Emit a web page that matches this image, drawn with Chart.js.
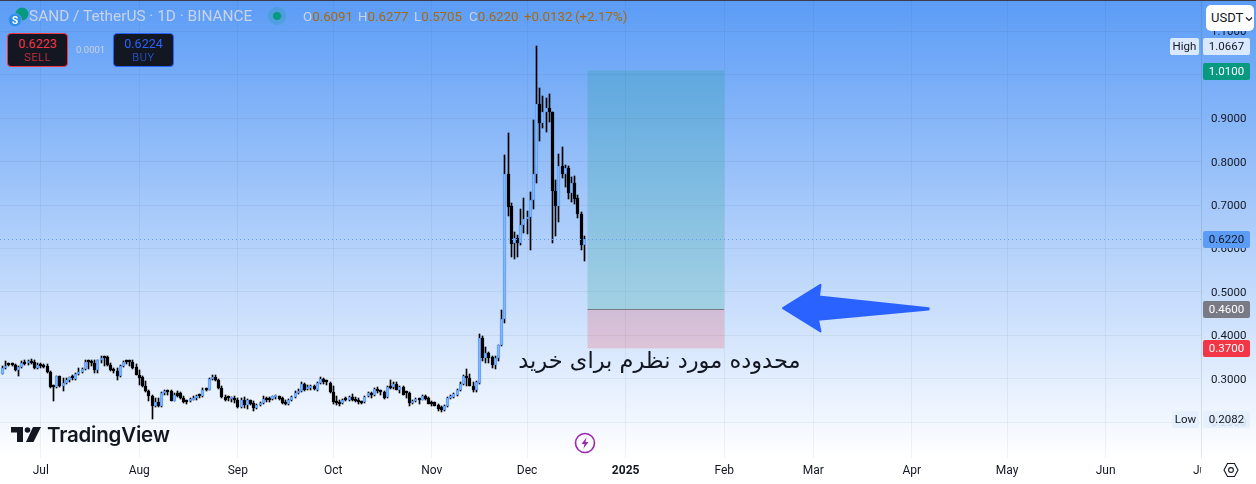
<!DOCTYPE html>
<html>
<head>
<meta charset="utf-8">
<title>SAND / TetherUS</title>
<script src="https://cdn.jsdelivr.net/npm/chart.js@4"></script>
<style>
    html, body { margin: 0; padding: 0; background: #fff; overflow: hidden; }
    #wrap { position: relative; width: 1256px; height: 484px; font-family: Roboto, sans-serif; }
    #wrap span, #wrap div { position: absolute; white-space: nowrap; }
    .head { top: 8px; font-size: 13.3px; line-height: 17px; color: #c9d3e6; }
    .val { color: #a8690f; }
    .pill { top: 33px; width: 59px; height: 32px; background: #131722; border-radius: 4px; text-align: center; border: 1px solid; }
    .pill b { display: block; font-weight: 400; font-size: 12.5px; line-height: 14px; margin-top: 3px; }
    .pill i { display: block; font-style: normal; font-weight: 300; font-size: 11px; line-height: 13px; letter-spacing: 0.6px; }
</style>
</head>
<body>
<div id="wrap">
    <canvas id="chart" width="1256" height="484"></canvas>

    <svg style="position:absolute;left:8px;top:7px" width="22" height="20">
        <circle cx="14" cy="7" r="6.5" fill="#089981"></circle>
        <circle cx="7" cy="13" r="6.5" fill="#2d8fe6" stroke="#5b9cf6"></circle>
        <text x="7" y="16.5" font-size="10" font-weight="700" fill="#fff" text-anchor="middle" font-family="Roboto">S</text>
    </svg>
    <span class="head" style="left:29px;font-size:15.4px;">SAND / TetherUS · 1D · BINANCE</span>
    <svg style="position:absolute;left:268px;top:7px" width="18" height="18">
        <circle cx="9" cy="9" r="9" fill="#089981" opacity="0.2"></circle>
        <circle cx="9" cy="9" r="4" fill="#089981"></circle>
    </svg>
    <span class="head" style="left:303px">O<span class="val" style="position:static">0.6091</span></span>
    <span class="head" style="left:358px">H<span class="val" style="position:static">0.6277</span></span>
    <span class="head" style="left:414px">L<span class="val" style="position:static">0.5705</span></span>
    <span class="head" style="left:469px">C<span class="val" style="position:static">0.6220</span></span>
    <span class="head val" style="left:524px">+0.0132</span>
    <span class="head val" style="left:575px">(+2.17%)</span>

    <div class="pill" style="left:7px;color:#f23645;border-color:#f23645"><b>0.6223</b><i>SELL</i></div>
    <span style="left:76px;top:44px;font-size:9.5px;color:#c9d3e6">0.0001</span>
    <div class="pill" style="left:113px;color:#2962ff;border-color:#2962ff"><b>0.6224</b><i>BUY</i></div>

    <div style="left:1206px;top:5px;width:48px;height:26px;background:#fff;border-radius:5px;font-size:13px;line-height:26px;color:#131722;text-indent:5px">USDT<svg style="position:absolute;left:39px;top:11px" width="8" height="6"><path d="M1 1.5 L4 4.5 L7 1.5" fill="none" stroke="#131722" stroke-width="1.2"></path></svg></div>

    <svg style="position:absolute;left:10px;top:426px" width="34" height="17">
        <path d="M1 1 H13 V16 H7 V6.5 H1 Z" fill="#131722"></path>
        <circle cx="17.5" cy="4" r="2.8" fill="#131722"></circle>
        <path d="M23 1 H31 L23.5 16 H16 Z" fill="#131722"></path>
    </svg>
    <span style="left:47px;top:422px;font-family:Inter,sans-serif;font-weight:600;font-size:20.5px;line-height:26px;color:#131722;letter-spacing:-0.2px">TradingView</span>

    <svg style="position:absolute;left:574px;top:432px" width="22" height="22">
        <circle cx="11" cy="11" r="9.5" fill="none" stroke="#9c27b0" stroke-width="1.6"></circle>
        <path d="M12.5 5.5 L7.5 12 H10.5 L9.5 16.5 L14.5 10 H11.5 Z" fill="#9c27b0"></path>
    </svg>
    <svg style="position:absolute;left:1223px;top:462px" width="16" height="16">
        <path d="M4.5 1.5 H11.5 L15 8 L11.5 14.5 H4.5 L1 8 Z" fill="none" stroke="#131722" stroke-width="1.1"></path>
        <circle cx="8" cy="8" r="2.4" fill="none" stroke="#131722" stroke-width="1.1"></circle>
    </svg>
</div>

<script>
const candleOpen = [
    .3108,.3238,.3322,.3315,.3315,.3192,.3261,.3376,.3361,.3414,
    .3376,.3238,.3322,.3315,.3299,.3146,.2817,.2809,.3054,.2825,
    .2901,.2962,.3031,.2993,.3108,.3154,.3223,.3391,.3376,.3361,
    .3208,.3422,.3499,.3491,.3315,.3208,.3185,.3054,.3284,.3391,
    .3391,.3376,.3261,.3093,.3031,.2825,.2710,.2610,.2365,.2472,
    .2380,.2671,.2733,.2725,.2495,.2671,.2671,.2549,.2472,.2480,
    .2518,.2549,.2610,.2595,.2763,.2748,.2993,.3039,.2962,.2786,
    .2579,.2564,.2534,.2549,.2518,.2342,.2518,.2403,.2503,.2442,
    .2327,.2388,.2442,.2534,.2526,.2534,.2579,.2595,.2564,.2442,
    .2419,.2503,.2579,.2671,.2710,.2886,.2763,.2779,.2840,.2748,
    .2901,.2993,.2932,.2901,.2694,.2495,.2457,.2434,.2541,.2503,
    .2579,.2534,.2518,.2472,.2457,.2595,.2664,.2625,.2771,.2725,
    .2694,.2579,.2809,.2802,.2886,.2748,.2809,.2694,.2671,.2434,
    .2480,.2534,.2518,.2595,.2557,.2442,.2457,.2403,.2342,.2273,
    .2365,.2564,.2572,.2633,.2733,.2878,.3070,.3008,.2840,.2733,
    .2908,.3936,.3483,.3598,.3506,.3322,.3483,.3782,.4380,.7713,
    .6977,.6127,.6242,.6127,.6541,.6679,.6724,.7115,.7713,.9322,
    .8885,.9138,.9230,.9138,.7322,.6977,.7897,.7713,.7851,.7276,
    .7506,.7161,.6793,.6091
];
const candleHigh = [
    .3284,.3414,.3361,.3361,.3345,.3299,.3399,.3422,.3437,.3453,
    .3437,.3361,.3361,.3345,.3345,.3169,.2863,.3070,.3070,.3016,
    .3016,.3039,.3093,.3131,.3246,.3246,.3437,.3437,.3422,.3437,
    .3437,.3514,.3514,.3514,.3361,.3246,.3246,.3322,.3414,.3437,
    .3437,.3422,.3345,.3208,.3054,.2939,.2748,.2633,.2557,.2557,
    .2687,.2733,.2748,.2748,.2671,.2710,.2687,.2595,.2518,.2549,
    .2595,.2633,.2641,.2786,.2779,.3016,.3093,.3093,.2993,.2825,
    .2633,.2610,.2579,.2595,.2549,.2549,.2579,.2534,.2518,.2495,
    .2419,.2465,.2595,.2579,.2579,.2610,.2633,.2610,.2579,.2503,
    .2534,.2610,.2710,.2771,.2917,.2901,.2863,.2863,.2863,.2917,
    .3039,.3016,.2962,.2917,.2825,.2595,.2518,.2541,.2579,.2595,
    .2648,.2579,.2557,.2495,.2602,.2687,.2694,.2786,.2802,.2748,
    .2710,.2825,.2978,.2917,.2917,.2825,.2840,.2710,.2687,.2518,
    .2549,.2557,.2633,.2625,.2579,.2480,.2472,.2426,.2365,.2396,
    .2579,.2633,.2671,.2771,.2917,.3077,.3223,.3108,.2917,.2939,
    .4035,.3989,.3736,.3621,.3529,.3529,.3782,.4587,.8150,.8656,
    .7046,.6380,.6311,.6908,.7161,.6862,.7299,.8954,1.0667,.9690,
    .9506,.9460,.9552,.9138,.7575,.8173,.8334,.7920,.7897,.7644,
    .7667,.7230,.6839,.6277
];
const candleLow = [
    .3108,.3223,.3284,.3284,.3169,.3054,.3246,.3307,.3322,.3345,
    .3223,.3223,.3246,.3246,.3131,.2786,.2480,.2794,.2802,.2710,
    .2878,.2917,.2978,.2962,.3093,.3131,.3208,.3223,.3284,.3131,
    .3131,.3361,.3284,.3284,.3169,.3131,.2978,.3039,.3269,.3345,
    .3299,.3223,.3077,.2848,.2809,.2687,.2480,.2082,.2350,.2342,
    .2342,.2633,.2633,.2480,.2480,.2579,.2534,.2442,.2426,.2465,
    .2503,.2518,.2549,.2579,.2725,.2733,.2978,.2939,.2771,.2557,
    .2480,.2495,.2472,.2442,.2327,.2327,.2327,.2311,.2388,.2265,
    .2311,.2365,.2419,.2457,.2457,.2503,.2534,.2503,.2426,.2388,
    .2388,.2480,.2557,.2656,.2694,.2710,.2733,.2748,.2733,.2725,
    .2886,.2886,.2863,.2671,.2426,.2388,.2365,.2419,.2480,.2488,
    .2488,.2472,.2426,.2426,.2442,.2579,.2564,.2595,.2671,.2633,
    .2541,.2564,.2763,.2763,.2733,.2671,.2618,.2557,.2365,.2419,
    .2457,.2426,.2503,.2503,.2411,.2365,.2365,.2250,.2242,.2258,
    .2350,.2534,.2549,.2595,.2710,.2863,.2825,.2825,.2687,.2687,
    .2885,.3414,.3368,.3368,.3253,.3230,.3414,.3759,.4288,.6747,
    .5805,.5759,.5805,.6081,.6357,.6334,.5966,.6908,.7506,.8472,
    .8770,.8679,.8908,.6127,.6288,.6610,.7621,.7414,.7138,.7069,
    .7023,.6702,.5966,.5705
];
const candleClose = [
    .3246,.3299,.3307,.3307,.3192,.3261,.3361,.3345,.3399,.3361,
    .3238,.3315,.3284,.3269,.3146,.2802,.2802,.3054,.2825,.2901,
    .2978,.3031,.3016,.3116,.3154,.3223,.3391,.3376,.3361,.3208,
    .3422,.3476,.3476,.3315,.3192,.3185,.3054,.3299,.3384,.3376,
    .3376,.3246,.3093,.3016,.2825,.2710,.2595,.2365,.2472,.2365,
    .2671,.2710,.2694,.2495,.2625,.2610,.2557,.2457,.2457,.2534,
    .2549,.2595,.2595,.2748,.2748,.2993,.3039,.2962,.2786,.2579,
    .2503,.2549,.2557,.2518,.2342,.2518,.2403,.2518,.2426,.2327,
    .2388,.2442,.2534,.2518,.2518,.2595,.2610,.2541,.2442,.2419,
    .2518,.2579,.2671,.2725,.2886,.2748,.2786,.2809,.2763,.2901,
    .2993,.2917,.2917,.2694,.2465,.2442,.2426,.2518,.2518,.2579,
    .2518,.2495,.2457,.2449,.2587,.2664,.2633,.2763,.2710,.2687,
    .2557,.2809,.2786,.2886,.2748,.2809,.2633,.2671,.2442,.2495,
    .2518,.2518,.2610,.2534,.2426,.2426,.2380,.2311,.2273,.2365,
    .2557,.2579,.2648,.2748,.2886,.3062,.3008,.2840,.2733,.2917,
    .3943,.3476,.3598,.3483,.3322,.3483,.3782,.4380,.7713,.6954,
    .6104,.6242,.6127,.6541,.6679,.6724,.7115,.7713,.9322,.8885,
    .9138,.9230,.9138,.7322,.6977,.7897,.7713,.7851,.7276,.7506,
    .7138,.6793,.6091,.6220
];

// one slot per day, slot 0 is Jun 19 2024
const monthSlots = [12, 43, 74, 104, 135, 165, 196, 227, 255, 286, 316, 347, 377];
const monthLabels = ["Jul", "Aug", "Sep", "Oct", "Nov", "Dec", "2025", "Feb", "Mar", "Apr", "May", "Jun", "Jul"];
const priceTicks = [1.1, 1.0, 0.9, 0.8, 0.7, 0.6, 0.5, 0.4, 0.3, 0.2];

const tagPrices = [1.0667, 1.01, 0.622, 0.46, 0.37, 0.2082];
const tagFills = ["rgba(255,255,255,0.75)", "#089981", "#5b9cf6", "#787b86", "#f23645", "rgba(227,238,253,0.9)"];
const tagInks = ["#131722", "#ffffff", "#131722", "#ffffff", "#ffffff", "#131722"];

const positionSlots = [184, 227];
const positionPrices = [1.01, 0.46, 0.37];
const noteText = "محدوده مورد نظرم برای خرید";
const noteSlot = 206.6;
const notePrice = 0.3385;
const arrowSlots = [245.5, 257.3, 256.8, 291.3, 291.3, 256.5, 257.3];
const arrowPrices = [0.4626, 0.5161, 0.4892, 0.4625, 0.4595, 0.4357, 0.4088];

const BLUE = "#5b9cf6";
const INK = "#131722";
const AXIS_FONT = "Roboto, sans-serif";

const isUp = candleClose.map((c, i) => c >= candleOpen[i]);
const bodies = candleOpen.map((o, i) => ({ x: i, y: [o, candleClose[i]] }));
const wicks = candleLow.map((l, i) => ({ x: i, y: [l, candleHigh[i]] }));

const pane = {
    id: "pane",
    beforeDraw(chart) {
        const { ctx, width, height, scales: { y } } = chart;
        const g = ctx.createLinearGradient(0, 0, 0, y.bottom);
        g.addColorStop(0, BLUE);
        g.addColorStop(1, "#ffffff");
        ctx.save();
        ctx.fillStyle = g;
        ctx.fillRect(0, 0, width, y.bottom);
        ctx.fillStyle = "#ffffff";
        ctx.fillRect(0, y.bottom, width, height - y.bottom);
        ctx.fillStyle = "#3a3d45";
        ctx.fillRect(0, 0, width, 1);
        ctx.restore();
    },
    // keep candles on whole pixels, the way the terminal paints them
    beforeDatasetsDraw(chart) {
        chart.data.datasets.forEach((ds, i) => {
            chart.getDatasetMeta(i).data.forEach(bar => {
                bar.x = Math.floor(bar.x) + 0.5;
                bar.y = Math.round(bar.y);
                bar.base = Math.round(bar.base);
            });
        });
    },
    afterDatasetsDraw(chart) {
        const { ctx, scales: { x, y } } = chart;
        const left = x.getPixelForValue(positionSlots[0]);
        const right = x.getPixelForValue(positionSlots[1]);
        const [top, mid, bottom] = positionPrices.map(p => y.getPixelForValue(p));

        ctx.save();
        ctx.fillStyle = "rgba(8,153,129,0.2)";
        ctx.fillRect(left, top, right - left, mid - top);
        ctx.fillStyle = "rgba(242,54,69,0.2)";
        ctx.fillRect(left, mid, right - left, bottom - mid);
        ctx.strokeStyle = "#787b86";
        ctx.lineWidth = 1;
        ctx.beginPath();
        ctx.moveTo(left, Math.round(mid) + 0.5);
        ctx.lineTo(right, Math.round(mid) + 0.5);
        ctx.stroke();

        // last price line
        const last = Math.round(y.getPixelForValue(tagPrices[2])) + 0.5;
        ctx.strokeStyle = BLUE;
        ctx.setLineDash([1, 3]);
        ctx.beginPath();
        ctx.moveTo(0, last);
        ctx.lineTo(x.right, last);
        ctx.stroke();
        ctx.setLineDash([]);

        // arrow drawing
        ctx.fillStyle = "#2962ff";
        ctx.strokeStyle = "#2962ff";
        ctx.lineWidth = 2;
        ctx.lineJoin = "round";
        ctx.beginPath();
        arrowSlots.forEach((s, i) => {
            ctx.lineTo(x.getPixelForValue(s), y.getPixelForValue(arrowPrices[i]));
        });
        ctx.closePath();
        ctx.fill();
        ctx.stroke();

        // note under the zone
        ctx.fillStyle = INK;
        ctx.font = "22.5px 'DejaVu Sans'";
        ctx.direction = "rtl";
        ctx.textAlign = "center";
        ctx.textBaseline = "middle";
        ctx.fillText(noteText, x.getPixelForValue(noteSlot), y.getPixelForValue(notePrice));
        ctx.restore();
    },
    afterDraw(chart) {
        const { ctx, width, height, scales: { x, y } } = chart;
        ctx.save();
        // the axis clips the label that runs off the time scale
        ctx.fillStyle = "#ffffff";
        ctx.fillRect(x.right, y.bottom, width - x.right, height - y.bottom);

        ctx.font = "11.5px " + AXIS_FONT;
        ctx.textAlign = "center";
        ctx.textBaseline = "middle";
        tagPrices.forEach((p, i) => {
            const py = Math.round(y.getPixelForValue(p));
            ctx.fillStyle = tagFills[i];
            ctx.beginPath();
            ctx.roundRect(x.right + 2, py - 8, 47, 17, 2);
            ctx.fill();
            ctx.fillStyle = tagInks[i];
            ctx.fillText(p.toFixed(4), x.right + 25.5, py + 1);
        });

        [["High", tagPrices[0], 1170, 29], ["Low", tagPrices[5], 1172, 27]].forEach(([name, p, left, w]) => {
            const py = Math.round(y.getPixelForValue(p));
            ctx.fillStyle = tagFills[name === "High" ? 0 : 5];
            ctx.beginPath();
            ctx.roundRect(left, py - 8, w, 17, 2);
            ctx.fill();
            ctx.fillStyle = INK;
            ctx.fillText(name, left + w / 2, py + 1);
        });
        ctx.restore();
    }
};

const chart = new Chart(document.getElementById("chart"), {
    type: "bar",
    data: {
        datasets: [
            {
                label: "Body",
                data: bodies,
                order: 1,
                grouped: false,
                barThickness: 3,
                minBarLength: 2,
                borderWidth: 1,
                borderSkipped: false,
                backgroundColor: isUp.map(up => (up ? "#86b6f8" : "#000000")),
                borderColor: isUp.map(up => (up ? BLUE : "#000000"))
            },
            {
                label: "Wick",
                data: wicks,
                order: 2,
                grouped: false,
                barThickness: 1,
                backgroundColor: "#000000"
            }
        ]
    },
    options: {
        responsive: false,
        animation: false,
        layout: { padding: 0 },
        plugins: { legend: { display: false }, tooltip: { enabled: false } },
        scales: {
            x: {
                type: "linear",
                offset: false,
                min: -0.82,
                max: 377,
                afterBuildTicks: scale => {
                    scale.ticks = monthSlots.map(value => ({ value }));
                },
                afterFit: scale => {
                    scale.height = 26;
                    scale.paddingLeft = 0;
                    scale.paddingRight = 0;
                },
                grid: { color: "rgba(42,46,57,0.06)", drawTicks: false, offset: false },
                border: { display: false },
                ticks: {
                    autoSkip: false,
                    maxRotation: 0,
                    padding: 6,
                    color: INK,
                    font: ctx => ({
                        family: AXIS_FONT,
                        size: 12,
                        weight: monthLabels[ctx.index] === "2025" ? "bold" : "normal"
                    }),
                    callback: (value, index) => monthLabels[index]
                }
            },
            y: {
                position: "right",
                min: 0.1173,
                max: 1.1726,
                afterBuildTicks: scale => {
                    scale.ticks = priceTicks.map(value => ({ value }));
                },
                afterFit: scale => {
                    scale.width = 55;
                    scale.paddingTop = 0;
                    scale.paddingBottom = 0;
                },
                grid: { color: "rgba(42,46,57,0.06)", drawTicks: false },
                border: { color: "rgba(42,46,57,0.06)" },
                ticks: {
                    padding: 10,
                    labelOffset: 1,
                    color: INK,
                    font: { family: AXIS_FONT, size: 11.5 },
                    callback: value => value.toFixed(4)
                }
            }
        }
    },
    plugins: [pane]
});
</script>
</body>
</html>
